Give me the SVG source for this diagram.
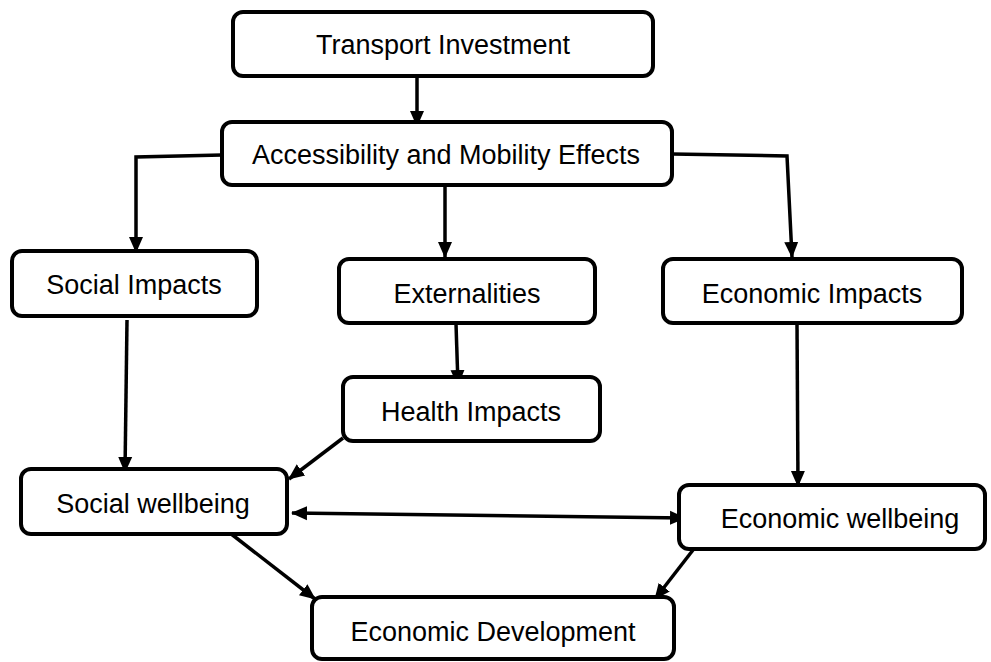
<svg xmlns="http://www.w3.org/2000/svg" width="991" height="662" viewBox="0 0 991 662">
  <style>
    .box { fill: #ffffff; stroke: #000000; stroke-width: 4; }
    .lbl { font-family: "Liberation Sans", Arial, sans-serif; font-size: 27px; fill: #000000; text-anchor: middle; }
    .con { fill: none; stroke: #000000; stroke-width: 3.5; }
  </style>
  <defs>
    <marker id="arrow" markerUnits="userSpaceOnUse" markerWidth="16" markerHeight="16" viewBox="0 0 16 16" refX="15" refY="8" orient="auto">
      <path d="M0,1 L16,8 L0,15 Z" fill="#000000"/>
    </marker>
    <marker id="arrowStart" markerUnits="userSpaceOnUse" markerWidth="16" markerHeight="16" viewBox="0 0 16 16" refX="1" refY="8" orient="auto">
      <path d="M16,1 L0,8 L16,15 Z" fill="#000000"/>
    </marker>
  </defs>

  <g id="connectors">
    <path class="con" d="M417,77 L417,126" marker-end="url(#arrow)"/>
    <path class="con" d="M222,155 L136,157 L136,252" marker-end="url(#arrow)"/>
    <path class="con" d="M445,186 L445,257" marker-end="url(#arrow)"/>
    <path class="con" d="M672,154 L787,156 L792,257" marker-end="url(#arrow)"/>
    <path class="con" d="M127,320 L125,472" marker-end="url(#arrow)"/>
    <path class="con" d="M456,324 L458,385" marker-end="url(#arrow)"/>
    <path class="con" d="M343,438 L289,479" marker-end="url(#arrow)"/>
    <path class="con" d="M292,513 L685,518" marker-start="url(#arrowStart)" marker-end="url(#arrow)"/>
    <path class="con" d="M797,324 L798,486" marker-end="url(#arrow)"/>
    <path class="con" d="M230,533 L315,599" marker-end="url(#arrow)"/>
    <path class="con" d="M693,550 L655,599" marker-end="url(#arrow)"/>
  </g>

  <g id="transport-investment">
    <rect class="box" x="233" y="12" width="420" height="64" rx="10"/>
    <text class="lbl" x="443" y="54">Transport Investment</text>
  </g>
  <g id="accessibility-mobility">
    <rect class="box" x="222" y="122" width="450" height="63" rx="10"/>
    <text class="lbl" x="446" y="164">Accessibility and Mobility Effects</text>
  </g>
  <g id="social-impacts">
    <rect class="box" x="12" y="251" width="245" height="65" rx="10"/>
    <text class="lbl" x="134" y="294">Social Impacts</text>
  </g>
  <g id="externalities">
    <rect class="box" x="339" y="259" width="256" height="64" rx="10"/>
    <text class="lbl" x="467" y="303">Externalities</text>
  </g>
  <g id="economic-impacts">
    <rect class="box" x="663" y="259" width="299" height="64" rx="10"/>
    <text class="lbl" x="812" y="303">Economic Impacts</text>
  </g>
  <g id="health-impacts">
    <rect class="box" x="343" y="377" width="257" height="64" rx="10"/>
    <text class="lbl" x="471" y="421">Health Impacts</text>
  </g>
  <g id="social-wellbeing">
    <rect class="box" x="21" y="469" width="266" height="65" rx="10"/>
    <text class="lbl" x="153" y="513">Social wellbeing</text>
  </g>
  <g id="economic-wellbeing">
    <rect class="box" x="679" y="485" width="306" height="64" rx="10"/>
    <text class="lbl" x="840" y="528">Economic wellbeing</text>
  </g>
  <g id="economic-development">
    <rect class="box" x="312" y="597" width="362" height="62" rx="10"/>
    <text class="lbl" x="493" y="641">Economic Development</text>
  </g>
</svg>
